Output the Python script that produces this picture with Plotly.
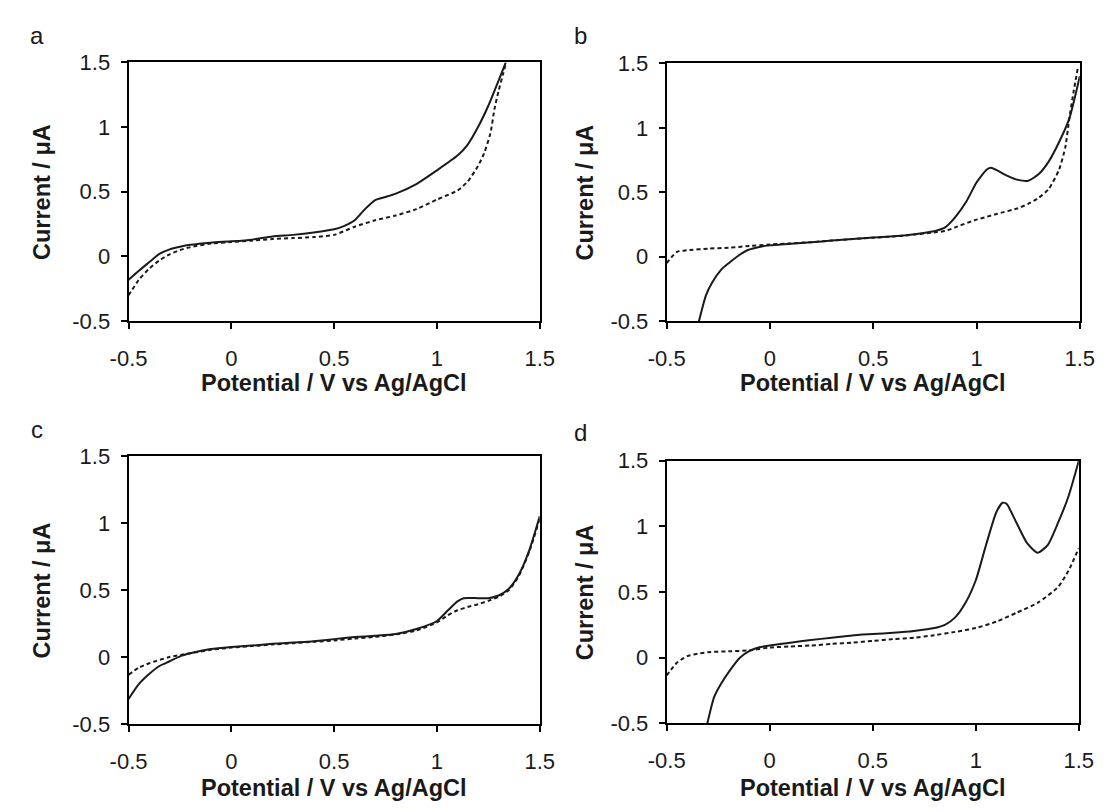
import plotly.graph_objects as go

# ---------------- data ----------------
tick_vals = [-0.5, 0, 0.5, 1, 1.5]
tick_text = ["-0.5", "0", "0.5", "1", "1.5"]
panel_letters = ["a", "b", "c", "d"]
x_title = "Potential / V vs Ag/AgCl"
y_title = "Current / μA"

a_solid_x = [-0.5, -0.45, -0.4, -0.35, -0.3, -0.25, -0.2, -0.1, 0, 0.1, 0.2, 0.3, 0.4, 0.5, 0.55, 0.6, 0.65, 0.7, 0.75, 0.8, 0.9, 1.0, 1.1, 1.15, 1.2, 1.25, 1.3, 1.335]
a_solid_y = [-0.18, -0.11, -0.045, 0.02, 0.055, 0.075, 0.09, 0.107, 0.117, 0.13, 0.155, 0.167, 0.185, 0.21, 0.237, 0.28, 0.366, 0.436, 0.46, 0.486, 0.56, 0.666, 0.78, 0.865, 1.0, 1.165, 1.36, 1.5]
a_dash_x = [-0.5, -0.45, -0.4, -0.35, -0.3, -0.25, -0.2, -0.1, 0, 0.1, 0.2, 0.3, 0.4, 0.5, 0.6, 0.7, 0.8, 0.9, 1.0, 1.1, 1.15, 1.2, 1.23, 1.26, 1.28, 1.30, 1.32, 1.337]
a_dash_y = [-0.30, -0.18, -0.095, -0.03, 0.017, 0.05, 0.072, 0.1, 0.112, 0.122, 0.135, 0.142, 0.15, 0.167, 0.23, 0.28, 0.317, 0.366, 0.44, 0.51, 0.58, 0.70, 0.80, 0.95, 1.14, 1.28, 1.40, 1.5]

b_solid_x = [-0.344, -0.31, -0.28, -0.236, -0.2, -0.16, -0.11, -0.04, 0, 0.1, 0.2, 0.3, 0.4, 0.5, 0.6, 0.7, 0.8, 0.85, 0.9, 0.95, 1.0, 1.05, 1.07, 1.1, 1.15, 1.2, 1.25, 1.3, 1.35, 1.4, 1.45, 1.5]
b_solid_y = [-0.5, -0.3, -0.2, -0.1, -0.05, 0, 0.05, 0.08, 0.088, 0.1, 0.113, 0.125, 0.138, 0.15, 0.158, 0.175, 0.2, 0.23, 0.313, 0.426, 0.576, 0.677, 0.69, 0.67, 0.627, 0.596, 0.589, 0.639, 0.74, 0.89, 1.075, 1.4]
b_dash_x = [-0.5, -0.45, -0.4, -0.3, -0.2, -0.1, 0, 0.1, 0.2, 0.3, 0.4, 0.5, 0.6, 0.7, 0.8, 0.85, 0.9, 1.0, 1.05, 1.1, 1.2, 1.25, 1.3, 1.35, 1.4, 1.43, 1.45, 1.47, 1.49]
b_dash_y = [-0.05, 0.038, 0.05, 0.063, 0.07, 0.083, 0.095, 0.103, 0.113, 0.125, 0.137, 0.148, 0.157, 0.172, 0.19, 0.2, 0.23, 0.288, 0.31, 0.333, 0.376, 0.41, 0.456, 0.526, 0.677, 0.85, 1.08, 1.28, 1.46]

c_solid_x = [-0.5, -0.45, -0.4, -0.35, -0.3, -0.25, -0.2, -0.1, 0, 0.1, 0.2, 0.3, 0.4, 0.5, 0.6, 0.7, 0.8, 0.9, 1.0, 1.05, 1.1, 1.13, 1.2, 1.25, 1.3, 1.35, 1.4, 1.45, 1.5]
c_solid_y = [-0.31, -0.2, -0.125, -0.065, -0.03, 0.007, 0.03, 0.062, 0.077, 0.087, 0.1, 0.11, 0.12, 0.135, 0.15, 0.16, 0.173, 0.21, 0.27, 0.344, 0.416, 0.44, 0.44, 0.44, 0.46, 0.51, 0.62, 0.8, 1.05]
c_dash_x = [-0.5, -0.45, -0.4, -0.3, -0.2, -0.1, 0, 0.1, 0.2, 0.3, 0.4, 0.5, 0.6, 0.7, 0.8, 0.9, 1.0, 1.05, 1.1, 1.15, 1.2, 1.25, 1.3, 1.35, 1.4, 1.45, 1.5]
c_dash_y = [-0.13, -0.077, -0.045, 0.002, 0.03, 0.055, 0.072, 0.083, 0.095, 0.105, 0.115, 0.125, 0.14, 0.152, 0.17, 0.2, 0.26, 0.31, 0.35, 0.375, 0.395, 0.42, 0.45, 0.50, 0.61, 0.79, 1.03]

d_solid_x = [-0.303, -0.27, -0.237, -0.195, -0.145, -0.1, -0.05, 0, 0.1, 0.2, 0.3, 0.4, 0.5, 0.6, 0.7, 0.8, 0.85, 0.9, 0.95, 1.0, 1.05, 1.1, 1.13, 1.15, 1.2, 1.25, 1.3, 1.35, 1.4, 1.45, 1.5]
d_solid_y = [-0.5, -0.3, -0.2, -0.1, 0, 0.05, 0.08, 0.093, 0.115, 0.135, 0.152, 0.17, 0.18, 0.19, 0.204, 0.226, 0.25, 0.307, 0.418, 0.59, 0.86, 1.11, 1.18, 1.17, 1.02, 0.87, 0.80, 0.86, 1.03, 1.23, 1.5]
d_dash_x = [-0.5, -0.45, -0.4, -0.35, -0.3, -0.2, -0.1, 0, 0.1, 0.2, 0.3, 0.4, 0.5, 0.6, 0.7, 0.8, 0.9, 1.0, 1.1, 1.2, 1.3, 1.4, 1.45, 1.5]
d_dash_y = [-0.135, -0.037, 0.012, 0.03, 0.042, 0.049, 0.056, 0.078, 0.086, 0.093, 0.105, 0.115, 0.128, 0.142, 0.152, 0.172, 0.197, 0.226, 0.275, 0.344, 0.418, 0.54, 0.663, 0.835]

panels_data = [
    (a_solid_x, a_solid_y, a_dash_x, a_dash_y),
    (b_solid_x, b_solid_y, b_dash_x, b_dash_y),
    (c_solid_x, c_solid_y, c_dash_x, c_dash_y),
    (d_solid_x, d_solid_y, d_dash_x, d_dash_y),
]

# ---------------- layout (pixel geometry) ----------------
W, H = 1120, 812
# (left, right, top, bottom) in px
boxes = [(113, 537, 52, 319), (668, 1094, 53, 319), (113, 537, 458, 735), (668, 1093, 463, 734)]
letter_pos = [(19, 24), (579, 24), (19, 431), (579, 434)]
ytitle_x = [24, 584, 24, 584]
xtitle_y = [383, 383, 801, 801]

FONT = "Liberation Sans, Arial, sans-serif"
fig = go.Figure()
layout = dict(
    width=W, height=H, margin=dict(l=0, r=0, t=0, b=0),
    paper_bgcolor="white", plot_bgcolor="white", showlegend=False,
    font=dict(family=FONT, color="#000000", size=22),
)
annotations = []

for i, (sx, sy, dx, dy) in enumerate(panels_data):
    n = "" if i == 0 else str(i + 1)
    xa, ya = "x" + n, "y" + n
    fig.add_trace(go.Scatter(x=dx, y=dy, mode="lines", xaxis=xa, yaxis=ya,
                             line=dict(color="#1a1a1a", width=2, dash="4px,3px", shape="spline", smoothing=0.6),
                             cliponaxis=True))
    fig.add_trace(go.Scatter(x=sx, y=sy, mode="lines", xaxis=xa, yaxis=ya,
                             line=dict(color="#1a1a1a", width=2, shape="spline", smoothing=0.6),
                             cliponaxis=True))
    l, r, t, b = boxes[i]
    common = dict(showgrid=False, zeroline=False, showline=True, linecolor="black", linewidth=2,
                  mirror=True, ticks="outside", ticklen=6, tickwidth=1.5, tickcolor="black",
                  tickvals=tick_vals, ticktext=tick_text, range=[-0.5, 1.5],
                  tickfont=dict(family=FONT, size=22, color="#1a1a1a"))
    layout["xaxis" + n] = dict(common, domain=[l / W, r / W], anchor=ya, ticklabelstandoff=10)
    layout["yaxis" + n] = dict(common, domain=[1 - b / H, 1 - t / H], anchor=xa, ticklabelstandoff=6)

    lx, ly = letter_pos[i]
    annotations.append(dict(text=panel_letters[i], x=lx / W, y=1 - ly / H, xref="paper", yref="paper",
                            showarrow=False, xanchor="center", yanchor="middle",
                            font=dict(family=FONT, size=24, color="#1a1a1a")))
    annotations.append(dict(text="<b>" + x_title + "</b>", x=(l + r) / 2 / W, y=1 - xtitle_y[i] / H,
                            xref="paper", yref="paper", showarrow=False, xanchor="center", yanchor="middle",
                            font=dict(family=FONT, size=23.5, color="#1a1a1a")))
    annotations.append(dict(text="<b>" + y_title + "</b>", x=ytitle_x[i] / W, y=1 - (t + b) / 2 / H,
                            xref="paper", yref="paper", showarrow=False, xanchor="center", yanchor="middle",
                            textangle=-90, font=dict(family=FONT, size=23.5, color="#1a1a1a")))

layout["annotations"] = annotations
fig.update_layout(**layout)
fig.write_html("out.html", config={"displayModeBar": False},
               post_script="document.body.style.margin='0';document.body.style.overflow='hidden';")
